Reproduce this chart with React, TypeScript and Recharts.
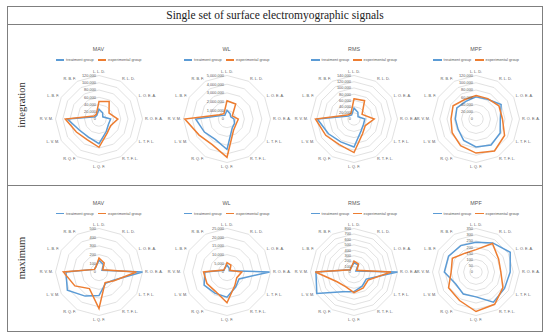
import React from 'react';
import { RadarChart, Radar, PolarGrid, PolarAngleAxis, PolarRadiusAxis } from 'recharts';

// ---------- data ----------
const axes = ['L. L. D.', 'R. L. D.', 'L. O. E. A.', 'R. O. E. A.', 'L. T. F. L.', 'R. T. F. L.', 'L. Q. F.', 'R. Q. F.', 'L. V. M.', 'R. V. M.', 'L. B. F.', 'R. B. F.'];

const seriesNames = ['treatment group', 'experimental group'];
const metricTitles = ['MAV', 'WL', 'RMS', 'MPF'];
const rowLabels = ['integration', 'maximum'];
const chartTitle = 'Single set of surface electromyographic signals';

// integration row
const intMavT = [27000, 20000, 12000, 32000, 30000, 40000, 68000, 58000, 62000, 87000, 12000, 12000];
const intMavE = [48000, 56000, 32000, 52000, 37000, 45000, 78000, 66000, 72000, 93000, 16000, 15000];
const intMavTicks = [0, 20000, 40000, 60000, 80000, 100000, 120000];

const intWlT = [1000000, 700000, 500000, 800000, 1000000, 1200000, 3500000, 2700000, 3000000, 3600000, 800000, 500000];
const intWlE = [2100000, 2000000, 700000, 1300000, 1200000, 1500000, 4400000, 3400000, 3700000, 4850000, 1000000, 700000];
const intWlTicks = [0, 1000000, 2000000, 3000000, 4000000, 5000000];

const intRmsT = [35000, 25000, 15000, 35000, 35000, 45000, 90000, 85000, 95000, 118000, 20000, 15000];
const intRmsE = [65000, 68000, 30000, 65000, 42000, 55000, 108000, 95000, 105000, 124000, 25000, 20000];
const intRmsTicks = [0, 20000, 40000, 60000, 80000, 100000, 120000, 140000];

const intMpfT = [61000, 63000, 80000, 67000, 77000, 83000, 77000, 68000, 57000, 57000, 61000, 56000];
const intMpfE = [65000, 65000, 73000, 73000, 91000, 102000, 94000, 85000, 76000, 69000, 73000, 62000];
const intMpfTicks = [0, 20000, 40000, 60000, 80000, 100000, 120000];

// maximum row
const maxMavT = [135, 100, 40, 500, 190, 150, 270, 320, 420, 380, 60, 70];
const maxMavE = [160, 120, 50, 430, 200, 140, 420, 220, 320, 410, 60, 70];
const maxMavTicks = [0, 100, 200, 300, 400, 500];

const maxWlT = [4000, 2500, 1500, 24500, 8000, 10000, 14500, 14000, 15200, 12700, 2000, 2500];
const maxWlE = [5400, 4500, 2000, 8500, 6500, 9000, 17700, 13000, 13300, 13500, 2200, 2500];
const maxWlTicks = [0, 5000, 10000, 15000, 20000, 25000];

const maxRmsT = [170, 150, 40, 800, 260, 300, 360, 420, 790, 700, 80, 100];
const maxRmsE = [200, 170, 60, 680, 300, 340, 380, 310, 360, 710, 80, 100];
const maxRmsTicks = [0, 100, 200, 300, 400, 500, 600, 700, 800];

const maxMpfT = [240, 270, 318, 275, 265, 280, 200, 205, 190, 255, 255, 245];
const maxMpfE = [180, 265, 210, 200, 250, 300, 318, 265, 255, 200, 220, 175];
const maxMpfTicks = [0, 50, 100, 150, 200, 250, 300, 350];

// ---------- styles / layout ----------
const seriesColors = ['#5B9BD5', '#ED7D31'];
const sansFont = '"Liberation Sans", Arial, sans-serif';
const serifFont = '"Liberation Serif", "Times New Roman", serif';
const textGray = '#595959';
const frameColor = '#7f7f7f';

const colCenters = [98.5, 226.5, 354, 476];
const rowCenters = [118.5, 272];
const PANEL_W = 140;
const PANEL_H = 150;
const RADIUS = 43.5;

type Panel = { title: string; treat: number[]; exp: number[]; ticks: number[] };

const rows: Panel[][] = [
  [
    { title: metricTitles[0], treat: intMavT, exp: intMavE, ticks: intMavTicks },
    { title: metricTitles[1], treat: intWlT, exp: intWlE, ticks: intWlTicks },
    { title: metricTitles[2], treat: intRmsT, exp: intRmsE, ticks: intRmsTicks },
    { title: metricTitles[3], treat: intMpfT, exp: intMpfE, ticks: intMpfTicks },
  ],
  [
    { title: metricTitles[0], treat: maxMavT, exp: maxMavE, ticks: maxMavTicks },
    { title: metricTitles[1], treat: maxWlT, exp: maxWlE, ticks: maxWlTicks },
    { title: metricTitles[2], treat: maxRmsT, exp: maxRmsE, ticks: maxRmsTicks },
    { title: metricTitles[3], treat: maxMpfT, exp: maxMpfE, ticks: maxMpfTicks },
  ],
];

const AngleTick = (props: any) => {
  const { x, y, textAnchor, payload } = props;
  const center = PANEL_H / 2;
  // push the top/bottom labels slightly further out so they clear the value labels
  const shift = textAnchor === 'middle' ? (y < center ? -1.8 : 1.2) : 0;
  return (
    <text x={x} y={y + shift} dy="0.35em" textAnchor={textAnchor} fontSize={3.8} fill={textGray} fontFamily={sansFont}>
      {payload.value}
    </text>
  );
};

const RadiusTick = (props: any) => {
  const { x, y, payload } = props;
  return (
    <text x={x - 3} y={y} dy="0.35em" textAnchor="end" fontSize={3.9} fill={textGray} fontFamily={sansFont}>
      {Number(payload.value).toLocaleString('en-US')}
    </text>
  );
};

function RadarPanel({ panel, cxAbs, cyAbs }: { panel: Panel; cxAbs: number; cyAbs: number }) {
  const data = axes.map((a, i) => ({ axis: a, treat: panel.treat[i], exp: panel.exp[i] }));
  const max = panel.ticks[panel.ticks.length - 1];
  return (
    <>
      <div
        style={{
          position: 'absolute', left: cxAbs - PANEL_W / 2, width: PANEL_W, top: cyAbs - 73.5, height: 8,
          textAlign: 'center', fontFamily: sansFont, fontSize: 5.4, lineHeight: '8px', color: textGray,
        }}
      >
        {panel.title}
      </div>
      <div
        style={{
          position: 'absolute', left: cxAbs - PANEL_W / 2, width: PANEL_W, top: cyAbs - 61.5, height: 6,
          display: 'flex', justifyContent: 'center', alignItems: 'center',
          fontFamily: sansFont, fontSize: 3.9, lineHeight: '6px', color: textGray, whiteSpace: 'nowrap',
        }}
      >
        {seriesNames.map((n, i) => (
          <span key={n} style={{ display: 'flex', alignItems: 'center', marginRight: i === 0 ? 4 : 0 }}>
            <span style={{ display: 'inline-block', width: 8.5, height: 1.5, background: seriesColors[i], marginRight: 2 }} />
            {n}
          </span>
        ))}
      </div>
      <div style={{ position: 'absolute', left: cxAbs - PANEL_W / 2, top: cyAbs - PANEL_H / 2 }}>
        <RadarChart
          width={PANEL_W}
          height={PANEL_H}
          cx={PANEL_W / 2}
          cy={PANEL_H / 2}
          outerRadius={RADIUS}
          data={data}
          margin={{ top: 0, right: 0, bottom: 0, left: 0 }}
        >
          <PolarGrid gridType="polygon" radialLines={false} stroke="#D9D9D9" strokeWidth={0.8} />
          <PolarAngleAxis dataKey="axis" tick={AngleTick} tickLine={false} axisLine={false} tickSize={2.5} />
          <PolarRadiusAxis
            angle={90}
            type="number"
            domain={[0, max]}
            ticks={panel.ticks as any}
            tickCount={panel.ticks.length}
            tick={RadiusTick}
            axisLine={false}
            tickLine={false}
            orientation="left"
          />
          <Radar dataKey="treat" name={seriesNames[0]} stroke={seriesColors[0]} strokeWidth={1.5} fill="none" fillOpacity={0} dot={false} isAnimationActive={false} />
          <Radar dataKey="exp" name={seriesNames[1]} stroke={seriesColors[1]} strokeWidth={1.5} fill="none" fillOpacity={0} dot={false} isAnimationActive={false} />
        </RadarChart>
      </div>
    </>
  );
}

export default function App() {
  return (
    <div style={{ position: 'absolute', left: 0, top: 0, width: 550, height: 335, background: '#fff', overflow: 'hidden' }}>
      {/* frame */}
      <div style={{ position: 'absolute', left: 7, top: 6, width: 536, height: 326, border: `1.5px solid ${frameColor}`, boxSizing: 'border-box' }} />
      <div style={{ position: 'absolute', left: 7, top: 24, width: 536, height: 0, borderTop: `1.5px solid ${frameColor}` }} />
      <div style={{ position: 'absolute', left: 7, top: 185, width: 536, height: 0, borderTop: `1.5px solid ${frameColor}` }} />
      {/* title */}
      <div style={{ position: 'absolute', left: 7, width: 536, top: 7, height: 17, lineHeight: '17px', textAlign: 'center', fontFamily: serifFont, fontSize: 11.5, color: '#222' }}>
        {chartTitle}
      </div>
      {/* row labels */}
      {rowLabels.map((lbl, i) => (
        <div
          key={lbl}
          style={{
            position: 'absolute', left: 22 - 40, top: (i === 0 ? 104.5 : 258) - 6, width: 80, height: 12,
            lineHeight: '12px', textAlign: 'center', fontFamily: serifFont, fontSize: 10.5, color: '#333',
            transform: 'rotate(-90deg)', transformOrigin: '40px 6px',
          }}
        >
          {lbl}
        </div>
      ))}
      {rows.map((row, r) =>
        row.map((panel, c) => (
          <RadarPanel key={`${r}-${c}`} panel={panel} cxAbs={colCenters[c]} cyAbs={rowCenters[r]} />
        ))
      )}
    </div>
  );
}
